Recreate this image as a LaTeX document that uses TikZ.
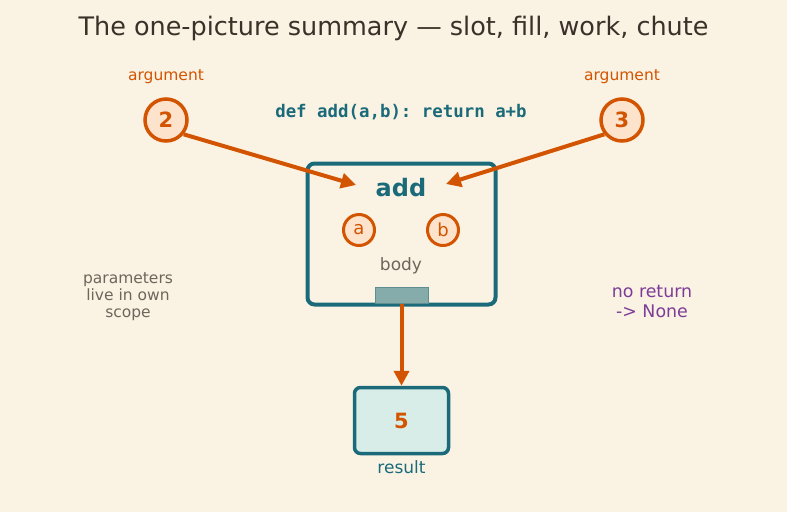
\documentclass[tikz,border=0pt]{standalone}
\usepackage{fontspec}
\setmainfont{DejaVu Sans}
\newfontfamily\codefont{DejaVu Sans Mono}
\usetikzlibrary{arrows.meta}

\definecolor{bgcream}{HTML}{FAF3E4}
\definecolor{inkbrown}{HTML}{3B3128}
\definecolor{argorange}{HTML}{D35400}
\definecolor{argfill}{HTML}{FDE3CC}
\definecolor{fnteal}{HTML}{1B6A7A}
\definecolor{resfill}{HTML}{D8ECE8}
\definecolor{chutefill}{HTML}{86ABAB}
\definecolor{chuteedge}{HTML}{5E8E90}
\definecolor{notegray}{HTML}{6E665B}
\definecolor{nonepurple}{HTML}{7D3C98}

\begin{document}
\begin{tikzpicture}[
	x=1pt, y=-1pt,
	>={Triangle[length=15pt, width=15pt]},
	flow/.style={draw=argorange, line width=4pt, ->},
	argslot/.style={circle, draw=argorange, fill=argfill, line width=3.5pt, minimum size=42pt, inner sep=0pt, text=argorange, font=\fontsize{21}{25}\selectfont\bfseries},
	paramslot/.style={circle, draw=argorange, fill=argfill, line width=3pt, minimum size=31pt, inner sep=0pt, text=argorange, font=\fontsize{18}{22}\selectfont},
	funcbox/.style={rectangle, rounded corners=7pt, draw=fnteal, fill=bgcream, line width=4pt, minimum width=188pt, minimum height=141pt},
	resultbox/.style={rectangle, rounded corners=6pt, draw=fnteal, fill=resfill, line width=3.5pt, minimum width=94pt, minimum height=66pt, text=argorange, font=\fontsize{21}{25}\selectfont\bfseries},
	chute/.style={rectangle, draw=chuteedge, fill=chutefill, line width=1pt, minimum width=53pt, minimum height=16pt, inner sep=0pt},
	label/.style={font=\fontsize{15.5}{17}\selectfont, text=argorange},
	note/.style={align=center, font=\fontsize{15.5}{17}\selectfont, text=notegray},
	]
	\fill[bgcream] (0,0) rectangle (787,512);

	\node[font=\fontsize{25.5}{30}\selectfont, text=inkbrown] (title) at (393.5,28) {The one-picture summary — slot, fill, work, chute};

	\node[label] (arglabL) at (166,77) {argument};
	\node[label] (arglabR) at (622,77) {argument};
	\node[argslot] (two) at (166,120) {2};
	\node[argslot] (three) at (622,120) {3};
	\node[font=\fontsize{17.4}{20}\codefont\bfseries\frenchspacing, text=fnteal] (code) at (401,112) {def add(a,b): return a+b};

	\node[funcbox] (addbox) at (401.5,234) {};
	\node[font=\fontsize{24}{28}\selectfont\bfseries, text=fnteal] (addname) at (401,188) {add};
	\node[paramslot] (pa) at (359,230) {a};
	\node[paramslot] (pb) at (443,230) {b};
	\node[font=\fontsize{17}{20}\selectfont, text=notegray] (body) at (401,266) {body};
	\node[chute] (out) at (401.5,295) {};

	\node[resultbox] (res) at (401.5,420.5) {5};
	\node[font=\fontsize{17}{20}\selectfont, text=fnteal] (reslab) at (401.5,467) {result};

	\node[note] (scope) at (128,297) {parameters\\live in own\\scope};
	\node[note, font=\fontsize{17.4}{20}\selectfont, text=nonepurple] (none) at (652,302) {no return\\-> None};

	\coordinate (inL) at (356,185);
	\coordinate (inR) at (446,184);
	\draw[flow] (two.-39) -- (inL);
	\draw[flow] (three.-141) -- (inR);
	\draw[flow] (out.south) -- (res.north);
\end{tikzpicture}
\end{document}
